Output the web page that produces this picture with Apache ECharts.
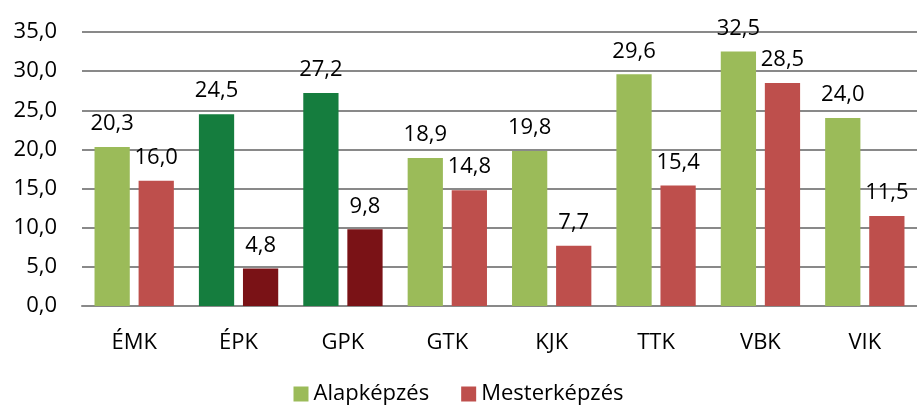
<!DOCTYPE html>
<html>
<head>
<meta charset="utf-8">
<script src="https://cdn.jsdelivr.net/npm/echarts@6/dist/echarts.min.js"></script>
<style>
  html, body { margin: 0; padding: 0; background: #fff; }
  #chart { width: 917px; height: 407px; }
</style>
</head>
<body>
<div id="chart"></div>
<script>
// karok
var categories = ['ÉMK', 'ÉPK', 'GPK', 'GTK', 'KJK', 'TTK', 'VBK', 'VIK']
var alapkepzes = [20.3, 24.5, 27.2, 18.9, 19.8, 29.6, 32.5, 24.0]
var mesterkepzes = [16.0, 4.8, 9.8, 14.8, 7.7, 15.4, 28.5, 11.5]
// sötétebb színnel kiemelt karok
var highlighted = ['ÉPK', 'GPK']

var font = '"Open Sans", "Noto Sans", sans-serif'

function fmt(v) {
  return v.toFixed(1).replace('.', ',')
}

function buildData(values, darkColor) {
  return values.map(function (v, i) {
    if (highlighted.indexOf(categories[i]) >= 0) {
      return { value: v, itemStyle: { color: darkColor } }
    }
    return v
  })
}

var myChart = echarts.init(document.getElementById('chart'))

var labelStyle = {
  show: true,
  position: 'top',
  distance: 12,
  color: '#000',
  fontFamily: font,
  fontSize: 22,
  formatter: function (p) { return fmt(p.value) }
}

var option = {
  animation: false,
  grid: { left: 82, right: 0, top: 32, bottom: 101 },
  legend: {
    top: 378,
    left: 'center',
    icon: 'rect',
    itemWidth: 15,
    itemHeight: 15,
    itemGap: 32,
    textStyle: { fontFamily: font, fontSize: 22, color: '#000' },
    data: ['Alapképzés', 'Mesterképzés']
  },
  xAxis: {
    type: 'category',
    data: categories,
    axisLine: { lineStyle: { color: '#898989', width: 2 } },
    axisTick: { show: false },
    axisLabel: { color: '#000', fontFamily: font, fontSize: 22, margin: 26 }
  },
  yAxis: {
    type: 'value',
    min: 0,
    max: 35,
    interval: 5,
    axisLine: { show: false },
    axisTick: { show: false },
    splitLine: { lineStyle: { color: '#898989', width: 2 } },
    axisLabel: {
      color: '#000', fontFamily: font, fontSize: 22, margin: 25,
      formatter: function (v) { return fmt(v) }
    }
  },
  series: [
    {
      name: 'Alapképzés',
      type: 'bar',
      barGap: '25%',
      barCategoryGap: '24%',
      itemStyle: { color: '#9BBB59' },
      label: labelStyle,
      data: buildData(alapkepzes, '#157D3E')
    },
    {
      name: 'Mesterképzés',
      type: 'bar',
      itemStyle: { color: '#BE4F4C' },
      label: labelStyle,
      data: buildData(mesterkepzes, '#7A1216')
    }
  ]
}

myChart.setOption(option)
</script>
</body>
</html>
